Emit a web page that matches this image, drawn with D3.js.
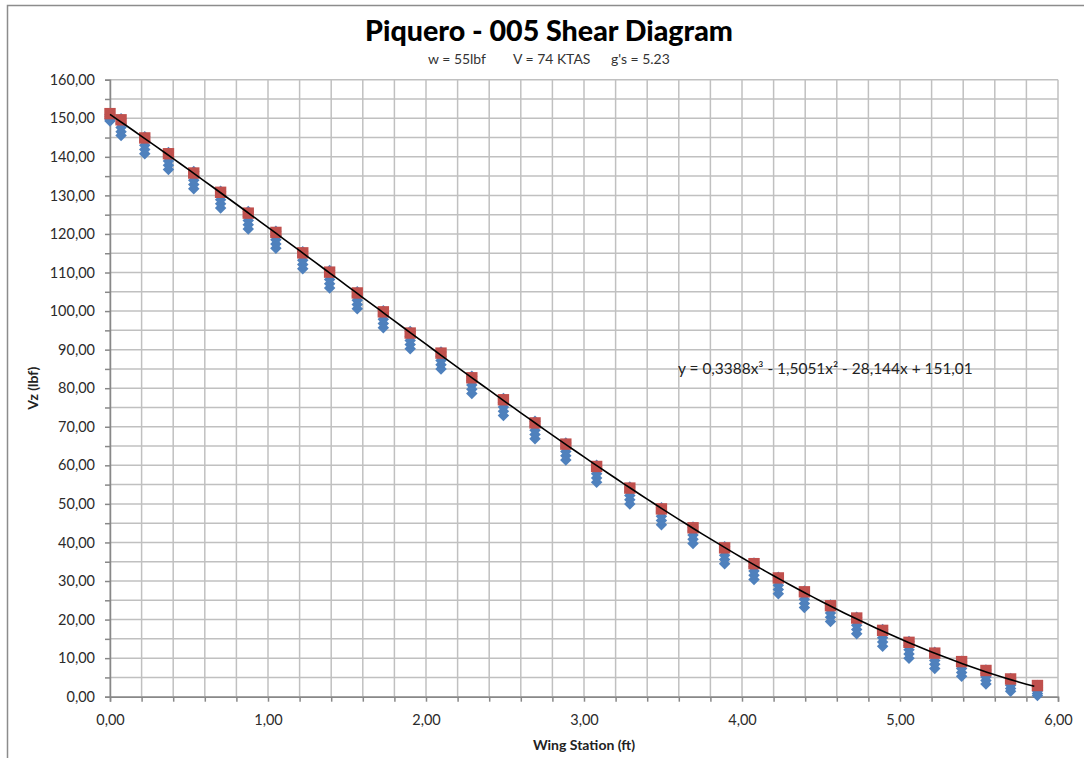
<!DOCTYPE html>
<html>
<head>
<meta charset="utf-8">
<script src="https://d3js.org/d3.v7.min.js"></script>
<style>
  body { margin: 0; background: #fff; }
  svg text { font-family: Lato, "Open Sans", sans-serif; }
</style>
</head>
<body>
<svg id="chart" width="1084" height="758"></svg>
<script>
// wing station (ft) for every point
const stations = [0.00, 0.07, 0.22, 0.37, 0.53, 0.70, 0.875, 1.05, 1.22, 1.39, 1.565, 1.73,
  1.90, 2.095, 2.29, 2.49, 2.69, 2.885, 3.08, 3.29, 3.49, 3.69, 3.89, 4.076, 4.23, 4.395,
  4.56, 4.726, 4.89, 5.057, 5.22, 5.39, 5.544, 5.70, 5.87];

// red squares (total shear)
const vzTotal = [151.2, 149.6, 144.9, 140.8, 135.8, 130.8, 125.4, 120.4, 115.1, 110.1, 104.7, 99.8,
  94.3, 89.1, 82.7, 77.0, 71.0, 65.5, 59.7, 54.1, 48.7, 43.8, 38.6, 34.5, 30.8, 27.2,
  23.6, 20.4, 17.2, 14.1, 11.3, 9.1, 6.8, 4.6, 2.9];

// blue diamonds (stacked cases)
const vzCase1 = [151.0, 149.9, 145.2, 141.1, 136.2, 131.1, 125.8, 120.7, 115.4, 110.5, 105.0, 100.1,
  94.7, 89.4, 83.1, 77.3, 71.4, 65.8, 60.0, 54.4, 49.0, 44.0, 38.9, 34.7, 31.0, 27.4,
  23.8, 20.6, 17.4, 14.3, 11.5, 9.2, 6.9, 4.7, 2.9];
const vzCase2 = [150.5, 148.7, 144.1, 140.0, 135.0, 130.0, 124.6, 119.6, 114.3, 109.3, 103.9, 99.0,
  93.5, 88.3, 81.9, 76.2, 70.2, 64.7, 58.9, 53.3, 47.9, 43.0, 37.8, 33.7, 30.0, 26.4,
  22.8, 19.6, 16.4, 13.3, 10.5, 8.3, 6.1, 3.9, 2.3];
const vzCase3 = [150.0, 147.6, 143.0, 138.9, 133.9, 128.9, 123.5, 118.5, 113.2, 108.2, 102.8, 97.9,
  92.4, 87.2, 80.8, 75.1, 69.1, 63.6, 57.8, 52.2, 46.8, 41.9, 36.7, 32.6, 28.9, 25.3,
  21.7, 18.5, 15.3, 12.2, 9.4, 7.3, 5.1, 3.0, 1.5];
const vzCase4 = [149.6, 146.5, 141.9, 137.8, 132.8, 127.8, 122.4, 117.4, 112.1, 107.1, 101.7, 96.8,
  91.3, 86.1, 79.7, 74.0, 68.0, 62.5, 56.7, 51.1, 45.7, 40.8, 35.6, 31.5, 27.8, 24.2,
  20.6, 17.4, 14.2, 11.1, 8.4, 6.3, 4.2, 2.1, 0.8];
const vzCase5 = [149.3, 145.5, 140.8, 136.7, 131.7, 126.7, 121.3, 116.3, 111.0, 106.0, 100.6, 95.7,
  90.2, 85.0, 78.6, 72.9, 66.9, 61.4, 55.6, 50.0, 44.6, 39.7, 34.5, 30.4, 26.7, 23.1,
  19.5, 16.3, 13.1, 10.0, 7.3, 5.3, 3.3, 1.4, 0.3];

// polynomial trendline y = c0 + c1 x + c2 x^2 + c3 x^3
const trendCoef = [151.01, -28.144, -1.5051, 0.3388];
const trendLabel = "y = 0,3388x³ - 1,5051x² - 28,144x + 151,01";

const xTicks = [0, 1, 2, 3, 4, 5, 6];
const yTicks = [0, 10, 20, 30, 40, 50, 60, 70, 80, 90, 100, 110, 120, 130, 140, 150, 160];
const subtitles = ["w = 55lbf", "V = 74 KTAS", "g's = 5.23"];

const svg = d3.select('#chart');
const plotL = 110, plotR = 1058, plotT = 79.7, plotB = 696.7;

const fmt = d3.formatLocale({ decimal: ',', thousands: '.', grouping: [3], currency: ['', ''] }).format('.2f');

const x = d3.scaleLinear().domain([0, 6]).range([plotL, plotR]);
const y = d3.scaleLinear().domain([0, 160]).range([plotB, plotT]);

// chart area border (only top/left show in the frame)
svg.append('rect')
  .attr('x', 7.5).attr('y', 5.5)
  .attr('width', 1200).attr('height', 900)
  .attr('fill', 'none').attr('stroke', '#8c8c8c').attr('stroke-width', 1.5);

// gridlines
const xGrid = x.ticks(30);
const yGrid = y.ticks(32);

svg.append('g')
  .selectAll('line')
  .data(xGrid)
  .enter().append('line')
  .attr('x1', d => x(d)).attr('x2', d => x(d))
  .attr('y1', plotT).attr('y2', plotB)
  .attr('stroke', '#c0c0c0').attr('stroke-width', 1.5);

svg.append('g')
  .selectAll('line')
  .data(yGrid)
  .enter().append('line')
  .attr('x1', plotL).attr('x2', plotR)
  .attr('y1', d => y(d)).attr('y2', d => y(d))
  .attr('stroke', '#c0c0c0').attr('stroke-width', 1.5);

// axes
const gx = svg.append('g')
  .attr('transform', `translate(0,${plotB})`)
  .call(d3.axisBottom(x).tickValues(xGrid).tickSize(5).tickPadding(13)
    .tickFormat(d => xTicks.some(t => Math.abs(t - d) < 1e-6) ? fmt(d) : ''));

const gy = svg.append('g')
  .attr('transform', `translate(${plotL},0)`)
  .call(d3.axisLeft(y).tickValues(yGrid).tickSize(5).tickPadding(10)
    .tickFormat(d => yTicks.includes(d) ? fmt(d) : ''));

[gx, gy].forEach(g => {
  g.select('.domain').attr('stroke', '#888').attr('stroke-width', 1.5);
  g.selectAll('.tick line').attr('stroke', '#888').attr('stroke-width', 1.5);
  g.selectAll('.tick text')
    .style('fill', '#2b2b2b')
    .style('font-family', 'Lato, sans-serif')
    .style('font-size', '14.5px');
});

// blue diamonds
const blueSeries = [vzCase1, vzCase2, vzCase3, vzCase4, vzCase5];
const diamond = d3.symbol(d3.symbolSquare, 66);

blueSeries.slice().reverse().forEach(vals => {
  svg.append('g')
    .selectAll('path')
    .data(stations.map((s, i) => [s, vals[i]]))
    .enter().append('path')
    .attr('d', diamond)
    .attr('transform', d => `translate(${x(d[0])},${y(d[1])}) rotate(45)`)
    .attr('fill', '#4F81BD');
});

// red squares
svg.append('g')
  .selectAll('path')
  .data(stations.map((s, i) => [s, vzTotal[i]]))
  .enter().append('path')
  .attr('d', d3.symbol(d3.symbolSquare, 130))
  .attr('transform', d => `translate(${x(d[0])},${y(d[1])})`)
  .attr('fill', '#C0504D');

// trendline
const poly = v => trendCoef.reduce((acc, c, k) => acc + c * Math.pow(v, k), 0);
const trendX = d3.range(0, stations[stations.length - 1] + 0.001, 0.05);

svg.append('path')
  .datum(trendX)
  .attr('d', d3.line().x(d => x(d)).y(d => y(poly(d))))
  .attr('fill', 'none')
  .attr('stroke', '#000')
  .attr('stroke-width', 1.6);

// scale a text's font so it spans the given width
function fitWidth(t, target) {
  const fs = parseFloat(t.style('font-size'));
  const w = t.node().getComputedTextLength();
  t.style('font-size', (fs * target / w) + 'px');
  return fs * target / w;
}

// titles
const title = svg.append('text')
  .attr('x', 549).attr('y', 41)
  .attr('text-anchor', 'middle')
  .style('font-size', '27px').style('font-weight', 900).style('fill', '#000')
  .text('Piquero - 005 Shear Diagram');
fitWidth(title, 368);

const subX = [428, 513, 611];
const subs = subtitles.map((s, i) => svg.append('text')
  .attr('x', subX[i]).attr('y', 64)
  .style('font-size', '12px').style('fill', '#333')
  .text(s));
const subSize = fitWidth(subs[0], 58);
subs.forEach(t => t.style('font-size', subSize + 'px'));

svg.append('text')
  .attr('x', (plotL + plotR) / 2).attr('y', 750)
  .attr('text-anchor', 'middle')
  .style('font-size', '14px').style('font-weight', 'bold').style('fill', '#222')
  .text('Wing Station (ft)');

svg.append('text')
  .attr('transform', `translate(38,${(plotT + plotB) / 2}) rotate(-90)`)
  .attr('text-anchor', 'middle')
  .style('font-size', '14px').style('font-weight', 'bold').style('fill', '#222')
  .text('Vz (lbf)');

const eq = svg.append('text')
  .attr('x', 678).attr('y', 374)
  .style('font-size', '12.5px').style('fill', '#222')
  .text(trendLabel);
fitWidth(eq, 295);
</script>
</body>
</html>
